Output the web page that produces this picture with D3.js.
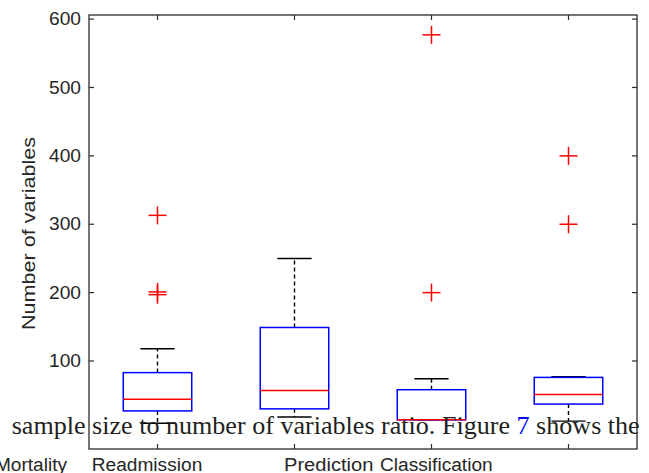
<!DOCTYPE html>
<html>
<head>
<meta charset="utf-8">
<script src="https://cdn.jsdelivr.net/npm/d3@7"></script>
<style>
html,body{margin:0;padding:0;background:#fff;}
svg{display:block;}
</style>
</head>
<body>
<svg id="chart" width="649" height="473"></svg>
<script>
// ---- data ----
const categories = ["Mortality Readmission", "Prediction", "Classification", ""];
const whiskerLow  = [9, 18, 14, 12];
const q1          = [27, 30, 14, 37];
const median      = [44, 57, 14, 51];
const q3          = [83, 149, 58, 76];
const whiskerHigh = [118, 250, 74, 77];
const outliers    = [[313, 201, 197], [], [577, 200], [400, 300]];
const yTicks      = [100, 200, 300, 400, 500, 600];
const xLabels     = ["Mortality", "Readmission", "Prediction", "Classification"];
const yLabel      = "Number of variables";
const overlayText = ["sample size to number of variables ratio. Figure ", "7", " shows the"];

// ---- layout ----
const svg = d3.select("#chart");
const L = 89, R = 637, T = 15, B = 449;
const x = d3.scaleLinear().domain([0.5, 4.5]).range([L, R]);
const y = d3.scaleLinear().domain([-28.7, 606]).range([B, T]);
const axisColor = "#2b2b2b";
const sans = "'Liberation Sans', Arial, Helvetica, sans-serif";

// frame
svg.append("rect").attr("x", L).attr("y", T).attr("width", R - L).attr("height", B - T)
  .attr("fill", "none").attr("stroke", axisColor).attr("stroke-width", 1.3);

const idx = categories.map((d, i) => i + 1);
const tl = 5;
// x ticks (bottom & top, inward)
idx.forEach(i => {
  svg.append("line").attr("x1", x(i)).attr("x2", x(i)).attr("y1", B).attr("y2", B - tl)
    .attr("stroke", axisColor).attr("stroke-width", 1.2);
  svg.append("line").attr("x1", x(i)).attr("x2", x(i)).attr("y1", T).attr("y2", T + tl)
    .attr("stroke", axisColor).attr("stroke-width", 1.2);
});
// y ticks (left & right, inward)
yTicks.forEach(v => {
  svg.append("line").attr("x1", L).attr("x2", L + tl).attr("y1", y(v)).attr("y2", y(v))
    .attr("stroke", axisColor).attr("stroke-width", 1.2);
  svg.append("line").attr("x1", R).attr("x2", R - tl).attr("y1", y(v)).attr("y2", y(v))
    .attr("stroke", axisColor).attr("stroke-width", 1.2);
  svg.append("text").attr("x", L - 8).attr("y", y(v) + 6.2)
    .attr("text-anchor", "end").attr("font-family", sans).attr("font-size", 18)
    .attr("fill", "#262626")
    .attr("textLength", 32).attr("lengthAdjust", "spacingAndGlyphs")
    .text(v);
});

// y label
svg.append("text")
  .attr("transform", `translate(35,${233.5}) rotate(-90)`)
  .attr("text-anchor", "middle").attr("font-family", sans).attr("font-size", 18)
  .attr("fill", "#262626")
  .attr("textLength", 193).attr("lengthAdjust", "spacingAndGlyphs")
  .text(yLabel);

// x labels (as positioned in the figure)
const xLabelPos = [[-5, 72], [91.7, 110.6], [284, 89.3], [380, 112.7]];
xLabels.forEach((t, i) => {
  svg.append("text").attr("x", xLabelPos[i][0]).attr("y", 470.5)
    .attr("font-family", sans).attr("font-size", 18).attr("fill", "#262626")
    .attr("textLength", xLabelPos[i][1]).attr("lengthAdjust", "spacingAndGlyphs")
    .text(t);
});

// boxes
const bw = 0.25, cw = 0.125;
idx.forEach((c, k) => {
  const g = svg.append("g");
  // whiskers
  g.append("line").attr("x1", x(c)).attr("x2", x(c)).attr("y1", y(q3[k])).attr("y2", y(whiskerHigh[k]))
    .attr("stroke", "#000").attr("stroke-width", 1.4).attr("stroke-dasharray", "4,3");
  g.append("line").attr("x1", x(c)).attr("x2", x(c)).attr("y1", y(q1[k])).attr("y2", y(whiskerLow[k]))
    .attr("stroke", "#000").attr("stroke-width", 1.4).attr("stroke-dasharray", "4,3");
  // caps
  [whiskerHigh[k], whiskerLow[k]].forEach(v => {
    g.append("line").attr("x1", x(c - cw)).attr("x2", x(c + cw)).attr("y1", y(v)).attr("y2", y(v))
      .attr("stroke", "#000").attr("stroke-width", 1.4);
  });
  // box
  g.append("rect").attr("x", x(c - bw)).attr("width", x(c + bw) - x(c - bw))
    .attr("y", y(q3[k])).attr("height", Math.max(0, y(q1[k]) - y(q3[k])))
    .attr("fill", "none").attr("stroke", "#0000ff").attr("stroke-width", 1.5);
  // median
  g.append("line").attr("x1", x(c - bw)).attr("x2", x(c + bw)).attr("y1", y(median[k])).attr("y2", y(median[k]))
    .attr("stroke", "#ff0000").attr("stroke-width", 1.5);
  // outliers
  outliers[k].forEach(v => {
    const cx = x(c), cy = y(v), s = 9;
    g.append("line").attr("x1", cx - s).attr("x2", cx + s).attr("y1", cy).attr("y2", cy)
      .attr("stroke", "#ff0000").attr("stroke-width", 1.5);
    g.append("line").attr("x1", cx).attr("x2", cx).attr("y1", cy - s).attr("y2", cy + s)
      .attr("stroke", "#ff0000").attr("stroke-width", 1.5);
  });
});

// overlapping body text from the page
const ov = svg.append("text").attr("x", 11.7).attr("y", 433.5)
  .attr("font-family", "'Liberation Serif', 'Times New Roman', serif").attr("font-size", 25)
  .attr("fill", "#231f20")
  .attr("textLength", 628).attr("lengthAdjust", "spacingAndGlyphs");
ov.append("tspan").text(overlayText[0]);
ov.append("tspan").attr("fill", "#0000ff").text(overlayText[1]);
ov.append("tspan").text(overlayText[2]);
</script>
</body>
</html>
